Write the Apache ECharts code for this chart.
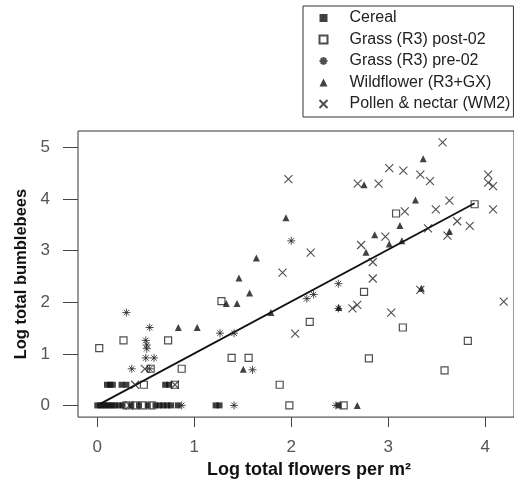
<!DOCTYPE html>
<html>
<head>
<meta charset="utf-8">
<script src="https://cdn.jsdelivr.net/npm/echarts@6/dist/echarts.min.js"></script>
<style>
html, body { margin: 0; padding: 0; background: #fff; }
#chart { width: 514px; height: 484px; }
</style>
</head>
<body>
<div id="chart"></div>
<script>
// values (log scales)
const xTicks = [0, 1, 2, 3, 4];
const yTicks = [0, 1, 2, 3, 4, 5];

const cerealX = [0, 0.03, 0.06, 0.09, 0.12, 0.15, 0.18, 0.22, 0.26, 0.35, 0.43, 0.52, 0.6, 0.64, 0.68, 0.72, 0.76, 0.83, 1.22, 1.26, 2.49,
                 0.1, 0.13, 0.16, 0.25, 0.3, 0.7, 0.74];
const cerealY = [0, 0, 0, 0, 0, 0, 0, 0, 0, 0, 0, 0, 0, 0, 0, 0, 0, 0, 0, 0, 0,
                 0.4, 0.4, 0.4, 0.4, 0.4, 0.4, 0.4];

const postX = [0.02, 0.27, 0.73, 0.55, 0.87, 0.48, 0.80, 0.30, 0.39, 0.47, 0.56, 1.28, 1.385, 1.56, 1.88, 1.98, 2.19, 2.75, 2.80, 3.15, 3.58, 3.82, 2.54, 3.08, 3.89];
const postY = [1.11, 1.26, 1.26, 0.71, 0.71, 0.40, 0.40, 0, 0, 0, 0, 2.02, 0.92, 0.92, 0.40, 0, 1.62, 2.20, 0.91, 1.51, 0.68, 1.25, 0, 3.72, 3.90];

const preX = [0.30, 0.54, 0.50, 0.51, 0.51, 0.50, 0.585, 0.355, 0.54, 0.87, 1.41, 2.46, 1.265, 1.41, 1.60, 2.16, 2.23, 2.485, 2.485, 2.00];
const preY = [1.80, 1.51, 1.26, 1.17, 1.10, 0.92, 0.92, 0.71, 0.71, 0, 0, 0, 1.40, 1.40, 0.69, 2.07, 2.15, 2.36, 1.88, 3.19];

const wildX = [0.835, 1.03, 1.33, 1.44, 1.57, 1.46, 1.64, 1.945, 1.79, 1.505, 2.68, 2.77, 2.75, 2.86, 3.01, 3.14, 3.12, 3.28, 3.36, 3.63, 3.34, 2.49];
const wildY = [1.51, 1.51, 1.975, 1.975, 2.18, 2.47, 2.86, 3.64, 1.80, 0.70, 0, 2.97, 4.28, 3.31, 3.13, 3.19, 3.49, 3.98, 4.78, 3.37, 2.27, 1.90];

const pollenX = [0.33, 0.39, 0.49, 0.80, 1.91, 2.04, 2.20, 1.97, 2.63, 2.68, 3.03, 2.84, 2.84, 2.72, 2.97, 2.685, 2.90, 3.01, 3.155, 3.33, 3.43, 3.56,
                 3.17, 3.49, 3.63, 3.71, 3.84, 3.41, 3.61, 4.03, 4.03, 4.08, 4.08, 4.19, 3.33];
const pollenY = [0, 0.40, 0.71, 0.40, 2.575, 1.39, 2.96, 4.385, 1.88, 1.95, 1.80, 2.46, 2.78, 3.11, 3.27, 4.30, 4.30, 4.60, 4.55, 4.475, 4.35, 5.10,
                 3.76, 3.80, 3.97, 3.57, 3.48, 3.43, 3.29, 4.475, 4.32, 4.25, 3.80, 2.01, 2.24];

const fitX = [0.03, 3.89];
const fitY = [0.03, 3.92];

const names = ['Cereal', 'Grass (R3) post-02', 'Grass (R3) pre-02', 'Wildflower (R3+GX)', 'Pollen & nectar (WM2)'];

const STAR = 'path://M5,0L5,10M0,5L10,5M1.5,1.5L8.5,8.5M1.5,8.5L8.5,1.5';
const CROSS = 'path://M0,0L10,10M0,10L10,0';
const FONT = "'Liberation Sans', Arial, sans-serif";

const pairs = (xs, ys) => xs.map((x, i) => [x, ys[i]]);

let chart = echarts.init(document.getElementById('chart'));

let option = {
    animation: false,
    grid: {
        left: 78,
        top: 131,
        right: 0,
        bottom: 64.5,
        show: true,
        borderColor: '#333',
        borderWidth: 1
    },
    legend: {
        data: names,
        orient: 'vertical',
        left: 303,
        top: 6,
        padding: [4, 3, 5, 14],
        itemGap: 5.5,
        itemWidth: 8,
        itemHeight: 8,
        borderColor: '#333',
        borderWidth: 1,
        textStyle: {
            fontFamily: FONT,
            fontSize: 16,
            lineHeight: 16,
            color: '#222',
            padding: [0, 0, 0, 17]
        }
    },
    xAxis: {
        type: 'value',
        min: -0.199,
        max: 4.296,
        name: 'Log total flowers per m²',
        nameLocation: 'middle',
        nameGap: 38,
        nameTextStyle: { fontFamily: FONT, fontSize: 18, fontWeight: 'bold', color: '#111', padding: [0, 0, 0, 26] },
        axisLine: { show: false, onZero: false },
        splitLine: { show: false },
        axisTick: { show: true, inside: false, length: 10, customValues: xTicks, lineStyle: { color: '#444' } },
        axisLabel: { customValues: xTicks, margin: 22, fontFamily: FONT, fontSize: 17, color: '#555' }
    },
    yAxis: {
        type: 'value',
        min: -0.227,
        max: 5.32,
        name: 'Log total bumblebees',
        nameLocation: 'middle',
        nameRotate: 90,
        nameGap: 48,
        nameTextStyle: { fontFamily: FONT, fontSize: 16.5, fontWeight: 'bold', color: '#111' },
        axisLine: { show: false, onZero: false },
        splitLine: { show: false },
        axisTick: { show: true, inside: false, length: 15, customValues: yTicks, lineStyle: { color: '#444' } },
        axisLabel: { customValues: yTicks, margin: 28, fontFamily: FONT, fontSize: 17, color: '#555' }
    },
    series: [
        {
            name: '',
            type: 'line',
            data: pairs(fitX, fitY),
            symbol: 'none',
            lineStyle: { color: '#111', width: 1.8 },
            z: 1
        },
        {
            name: names[0],
            type: 'scatter',
            symbol: 'rect',
            symbolSize: 6,
            itemStyle: { color: '#111' },
            data: pairs(cerealX, cerealY)
        },
        {
            name: names[1],
            type: 'scatter',
            symbol: 'rect',
            symbolSize: 7,
            itemStyle: { color: 'none', borderColor: '#222', borderWidth: 1.2 },
            data: pairs(postX, postY)
        },
        {
            name: names[2],
            type: 'scatter',
            symbol: STAR,
            symbolSize: 8,
            itemStyle: { color: 'none', borderColor: '#222', borderWidth: 1 },
            data: pairs(preX, preY)
        },
        {
            name: names[3],
            type: 'scatter',
            symbol: 'triangle',
            symbolSize: 7,
            itemStyle: { color: '#111' },
            data: pairs(wildX, wildY)
        },
        {
            name: names[4],
            type: 'scatter',
            symbol: CROSS,
            symbolSize: 8,
            itemStyle: { color: 'none', borderColor: '#222', borderWidth: 1.1 },
            data: pairs(pollenX, pollenY)
        }
    ]
};

option && chart.setOption(option);
</script>
</body>
</html>
